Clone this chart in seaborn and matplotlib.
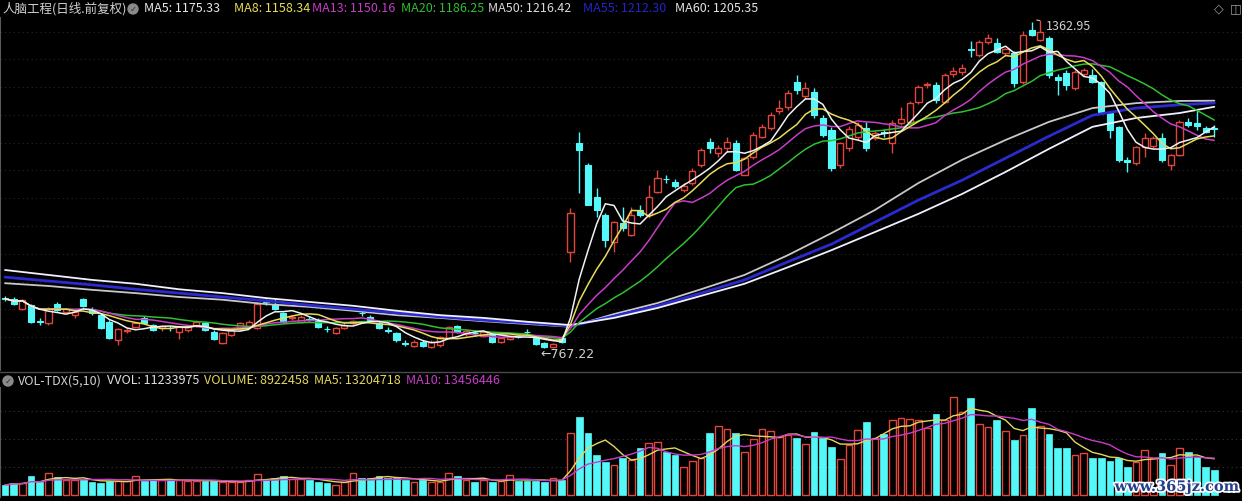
import numpy as np
import pandas as pd
import matplotlib
matplotlib.use("Agg")
import matplotlib.pyplot as plt
import seaborn as sns
from matplotlib.patches import Circle
from matplotlib.lines import Line2D
import matplotlib.patheffects as pe

# ---- 日K数据 ----
opens = [858, 857, 839, 845, 816, 812, 848, 833, 827, 856,
         839, 827, 815, 782, 798, 806, 821, 809, 803, 804,
         797, 800, 809, 812, 797, 777, 791, 801, 806, 803,
         852, 845, 830, 821, 815, 820, 818, 802, 795, 804,
         812, 831, 824, 813, 800, 794, 776, 771, 778, 770,
         772, 786, 807, 793, 795, 790, 791, 779, 784, 790,
         797, 785, 776, 769, 785, 942, 1139, 1100, 1042, 1009,
         960, 994, 973, 1018, 1009, 1051, 1075, 1069, 1054, 1067,
         1100, 1142, 1122, 1130, 1139, 1082, 1115, 1151, 1166, 1197,
         1205, 1250, 1225, 1232, 1185, 1163, 1100, 1130, 1150, 1167,
         1149, 1160, 1140, 1176, 1178, 1214, 1245, 1245, 1214, 1265,
         1268, 1311, 1299, 1323, 1321, 1303, 1303, 1250, 1345, 1327,
         1330, 1259, 1267, 1239, 1265, 1263, 1250, 1194, 1168, 1108,
         1103, 1132, 1135, 1149, 1100, 1118, 1178, 1176, 1167, 1167]
highs = [862, 860, 856, 848, 821, 842, 850, 840, 836, 858,
         842, 830, 818, 803, 803, 815, 825, 811, 809, 808,
         808, 809, 818, 815, 800, 796, 802, 815, 818, 850,
         857, 857, 833, 827, 827, 824, 821, 807, 805, 812,
         818, 836, 827, 816, 805, 797, 781, 781, 781, 781,
         790, 807, 810, 802, 799, 800, 793, 787, 790, 793,
         802, 787, 778, 777, 788, 1022, 1160, 1103, 1058, 1012,
         998, 1024, 1024, 1027, 1063, 1091, 1082, 1075, 1067, 1094,
         1130, 1148, 1136, 1151, 1145, 1114, 1160, 1175, 1196, 1218,
         1236, 1263, 1250, 1240, 1190, 1168, 1142, 1170, 1178, 1178,
         1162, 1165, 1181, 1205, 1215, 1245, 1251, 1250, 1266, 1278,
         1283, 1325, 1327, 1337, 1330, 1313, 1306, 1343, 1360, 1362.95,
         1334, 1265, 1272, 1272, 1276, 1274, 1252, 1196, 1170, 1114,
         1134, 1158, 1152, 1158, 1120, 1181, 1185, 1199, 1170, 1172]
lows = [853, 846, 836, 813, 809, 810, 834, 830, 821, 842,
        828, 801, 783, 773, 795, 803, 811, 798, 799, 799,
        783, 797, 806, 798, 781, 774, 789, 799, 803, 801,
        846, 837, 813, 818, 812, 816, 804, 797, 793, 802,
        810, 826, 816, 801, 795, 779, 771, 769, 770, 768,
        770, 784, 794, 790, 789, 788, 777, 776, 782, 786,
        793, 773, 767.22, 768, 777, 924, 1048, 1027, 1006, 951,
        942, 979, 971, 1006, 1003, 1049, 1067, 1057, 1051, 1063,
        1096, 1121, 1115, 1124, 1088, 1081, 1111, 1148, 1163, 1193,
        1200, 1228, 1220, 1185, 1150, 1088, 1095, 1125, 1145, 1125,
        1145, 1150, 1121, 1172, 1175, 1210, 1240, 1212, 1212, 1260,
        1263, 1296, 1296, 1319, 1303, 1298, 1241, 1247, 1334, 1325,
        1258, 1227, 1236, 1236, 1261, 1248, 1194, 1149, 1105, 1087,
        1099, 1114, 1130, 1105, 1090, 1116, 1168, 1163, 1158, 1150]
closes = [857, 848, 854, 815, 815, 839, 836, 839, 833, 844,
          830, 803, 785, 801, 800, 813, 813, 800, 807, 803,
          806, 806, 815, 800, 783, 794, 800, 813, 815, 848,
          851, 838, 815, 824, 824, 819, 806, 801, 803, 810,
          816, 830, 818, 803, 799, 781, 775, 779, 771, 779,
          788, 805, 796, 799, 794, 797, 779, 785, 788, 788,
          796, 775, 769, 775, 779, 1012, 1126, 1027, 1018, 963,
          997, 985, 1009, 1009, 1042, 1076, 1074, 1062, 1062, 1088,
          1127, 1130, 1130, 1142, 1091, 1112, 1154, 1169, 1190, 1203,
          1230, 1235, 1240, 1190, 1154, 1095, 1139, 1165, 1172, 1131,
          1158, 1157, 1176, 1183, 1212, 1241, 1247, 1218, 1263, 1271,
          1276, 1309, 1323, 1330, 1305, 1310, 1248, 1336, 1336, 1341,
          1263, 1254, 1245, 1268, 1272, 1250, 1196, 1163, 1109, 1105,
          1132, 1149, 1148, 1109, 1118, 1178, 1172, 1170, 1160, 1165]
# 成交量 (百万股)
volumes = [3.6, 4.3, 4.3, 6.8, 4.6, 7.9, 6.4, 5.4, 5.4, 5.7,
           4.6, 4.3, 5.0, 5.0, 5.0, 6.8, 5.0, 5.4, 5.4, 5.4,
           5.4, 5.0, 5.0, 5.0, 5.0, 4.6, 4.6, 4.6, 5.4, 7.5,
           5.4, 6.1, 6.8, 5.7, 5.7, 5.4, 4.6, 4.3, 3.6, 4.6,
           7.9, 6.1, 6.1, 6.8, 6.1, 6.1, 5.4, 4.6, 5.4, 4.6,
           4.6, 7.9, 6.8, 5.4, 4.6, 5.4, 4.6, 5.0, 7.1, 5.0,
           5.0, 5.0, 4.6, 6.1, 5.4, 22.1, 27.8, 22.1, 14.3, 11.8,
           10.7, 13.2, 12.5, 16.8, 18.6, 18.9, 15.4, 14.3, 10.0, 12.1,
           13.2, 22.1, 24.6, 23.6, 22.1, 15.4, 20.0, 23.6, 22.8, 20.7,
           21.4, 20.3, 18.2, 22.5, 20.3, 17.1, 12.9, 17.9, 23.2, 26.1,
           20.3, 21.8, 26.8, 27.5, 27.1, 26.8, 23.9, 28.9, 26.8, 35.0,
           29.6, 34.6, 25.3, 24.3, 26.8, 22.8, 19.6, 21.4, 31.1, 24.6,
           21.8, 16.8, 16.8, 14.3, 15.0, 13.2, 13.2, 12.1, 13.2, 10.0,
           11.8, 16.1, 13.2, 15.0, 10.7, 16.8, 15.4, 13.6, 10.0, 8.92]

# 长周期均线 (每5根K线读一个点)
ma_long_idx = list(range(0, 140, 5)) + [139]
ma50_pts = [885, 880, 873, 867, 860, 855, 847, 842, 835, 827, 822, 816, 811, 806, 829,
            849, 874, 900, 936, 976, 1018, 1067, 1109, 1145, 1178, 1203, 1212, 1216, 1216.42]
ma55_pts = [896, 889, 882, 874, 867, 860, 853, 845, 838, 831, 824, 818, 813, 807, 825,
            844, 867, 891, 924, 956, 996, 1036, 1072, 1112, 1152, 1190, 1203, 1209, 1212.30]
ma60_pts = [909, 900, 891, 884, 874, 867, 858, 851, 844, 835, 827, 822, 815, 809, 822,
            840, 862, 884, 914, 945, 978, 1011, 1047, 1087, 1129, 1169, 1185, 1194, 1205.35]

header = [("人脑工程(日线.前复权)", 2, "#d0d0d0"), ("MA5: 1175.33", 144, "#e8e8e8"),
          ("MA8: 1158.34", 234, "#e6dc5a"), ("MA13: 1150.16", 312, "#c83cc8"),
          ("MA20: 1186.25", 401, "#2fbf2f"), ("MA50: 1216.42", 488, "#d8d8d8"),
          ("MA55: 1212.30", 583, "#2424c8"), ("MA60: 1205.35", 675, "#e4e4e4")]
vol_header = [("VOL-TDX(5,10)", "#d0d0d0"), ("VVOL: 11233975", "#e0e0e0"),
              ("VOLUME: 8922458", "#e2d85c"), ("MA5: 13204718", "#e2d85c"),
              ("MA10: 13456446", "#c83cc8")]

W, H = 1242, 501
RED = "#e0463c"
CYAN = "#55f8f8"
FONT = ["Noto Sans CJK SC", "DejaVu Sans"]

df = pd.DataFrame({"open": opens, "high": highs, "low": lows, "close": closes, "vol": volumes})
df["i"] = np.arange(len(df))
for n in (5, 8, 13, 20):
    df[f"ma{n}"] = df["close"].rolling(n, min_periods=1).mean()
df["vma5"] = df["vol"].rolling(5, min_periods=1).mean()
df["vma10"] = df["vol"].rolling(10, min_periods=1).mean()

sns.set_theme(style="dark")
plt.rcParams["font.family"] = FONT

fig = plt.figure(figsize=(W / 100, H / 100), dpi=100, facecolor="black")
ax = fig.add_axes([0, (H - 370) / H, 1, 352 / H])
axv = fig.add_axes([0, 4 / H, 1, 109 / H])

xlim = (-5 / 8.7, 1237 / 8.7)
for a in (ax, axv):
    a.set_facecolor("black")
    a.set_xlim(*xlim)
    a.set_xticks([])
    for s in a.spines.values():
        s.set_visible(False)
    a.spines["left"].set_visible(True)
    a.spines["left"].set_color("#5a5a5a")
    a.spines["left"].set_linewidth(1.5)
    a.tick_params(length=0, labelleft=False)

# 虚线网格
ax.set_yticks(np.arange(787.3, 1366, 50.4))
ax.grid(axis="y", color="#282828", lw=0.8, ls=(0, (1, 3)))
axv.set_yticks([10, 20, 30])
axv.grid(axis="y", color="#363636", lw=0.8, ls=(0, (1, 3)))

# ---- K线 ----
up = df[df["close"] >= df["open"]]
dn = df[df["close"] < df["open"]]
bw = 0.7
ax.vlines(dn["i"], dn["low"], dn["high"], color=CYAN, lw=1, zorder=2)
ax.bar(dn["i"], dn["open"] - dn["close"], bottom=dn["close"], width=bw,
       color=CYAN, edgecolor=CYAN, lw=0.8, zorder=3)
ax.vlines(up["i"], up["close"], up["high"], color=RED, lw=1, zorder=2)
ax.vlines(up["i"], up["low"], up["open"], color=RED, lw=1, zorder=2)
ax.bar(up["i"], up["close"] - up["open"], bottom=up["open"], width=bw,
       facecolor="black", edgecolor=RED, lw=1, zorder=3)

# ---- 均线 ----
long_df = pd.DataFrame({"i": ma_long_idx, "ma50": ma50_pts, "ma55": ma55_pts, "ma60": ma60_pts})
sns.lineplot(data=long_df, x="i", y="ma50", ax=ax, color="#c8c8c8", lw=1.3, zorder=4)
sns.lineplot(data=long_df, x="i", y="ma55", ax=ax, color="#2a2ad0", lw=2.0, zorder=4)
sns.lineplot(data=long_df, x="i", y="ma60", ax=ax, color="#f0f0ff", lw=1.3, zorder=4)
for col, c in (("ma20", "#2fbf2f"), ("ma13", "#c83cc8"), ("ma8", "#e6dc5a"), ("ma5", "#f2f2f2")):
    sns.lineplot(data=df, x="i", y=col, ax=ax, color=c, lw=1.1, zorder=5)
ax.set_xlim(*xlim)
ax.set_ylim(727.4, 1366.6)
ax.set_xlabel("")
ax.set_ylabel("")

# 最高/最低价标注
hi_i = int(np.argmax(highs))
lo_i = int(np.argmin(lows))
ax.annotate(f"{highs[hi_i]:.2f}", xy=(hi_i - 0.4, highs[hi_i]), xytext=(hi_i + 0.6, highs[hi_i] - 12),
            color="#d0d0d0", fontsize=9, va="center", ha="left",
            arrowprops=dict(arrowstyle="-", color="#d0d0d0", lw=0.8))
ax.text(lo_i - 0.45, lows[lo_i] - 12, f"←{lows[lo_i]:.2f}", color="#d0d0d0", fontsize=9,
        va="center", ha="left", family=["DejaVu Sans"])

# ---- 成交量 ----
vup = df[df["close"] >= df["open"]]
vdn = df[df["close"] < df["open"]]
axv.bar(vdn["i"], vdn["vol"], width=0.78, color=CYAN, edgecolor=CYAN, lw=0.5, zorder=3)
axv.bar(vup["i"], vup["vol"], width=0.78, facecolor="black", edgecolor=RED, lw=1, zorder=3)
sns.lineplot(data=df, x="i", y="vma5", ax=axv, color="#e2d85c", lw=1, zorder=4)
sns.lineplot(data=df, x="i", y="vma10", ax=axv, color="#c83cc8", lw=1, zorder=4)
axv.set_xlim(*xlim)
axv.set_ylim(-0.71, 38.2)
axv.set_xlabel("")
axv.set_ylabel("")

# ---- 标题文字 ----
def fx(x, y):
    return x / W, 1 - y / H

for s, x, c in header:
    fig.text(*fx(x, 9), s, color=c, fontsize=9, va="center", ha="left", family=FONT)

renderer = fig.canvas.get_renderer()
xpos = 18
for s, c in vol_header:
    t = fig.text(*fx(xpos, 381), s, color=c, fontsize=9, va="center", ha="left", family=FONT)
    xpos = t.get_window_extent(renderer).x1 + 5

for cx, cy in ((133, 9), (8, 381)):
    fig.add_artist(Circle((cx, H - cy), 5, transform=None, color="#8a8a8a"))
    fig.text(*fx(cx, cy), "✓", color="#303030", fontsize=6, va="center", ha="center",
             family=["DejaVu Sans"])
fig.text(*fx(1219, 9), "◇", color="#9a9a9a", fontsize=9, va="center", ha="center", family=["DejaVu Sans"])
fig.text(*fx(1236, 9), "◫", color="#9a9a9a", fontsize=9, va="center", ha="center", family=["DejaVu Sans"])

fig.add_artist(Line2D([0, 1], [1 - 372 / H, 1 - 372 / H], color="#4a4a4a", lw=1))

fig.text(*fx(1177, 487), "www.365jz.com", color="#233e8c", fontsize=10.5, fontweight="bold",
         va="center", ha="center", family=["DejaVu Serif"],
         path_effects=[pe.withStroke(linewidth=2.5, foreground="white")])

fig.savefig("out.png", dpi=100, facecolor="black")
